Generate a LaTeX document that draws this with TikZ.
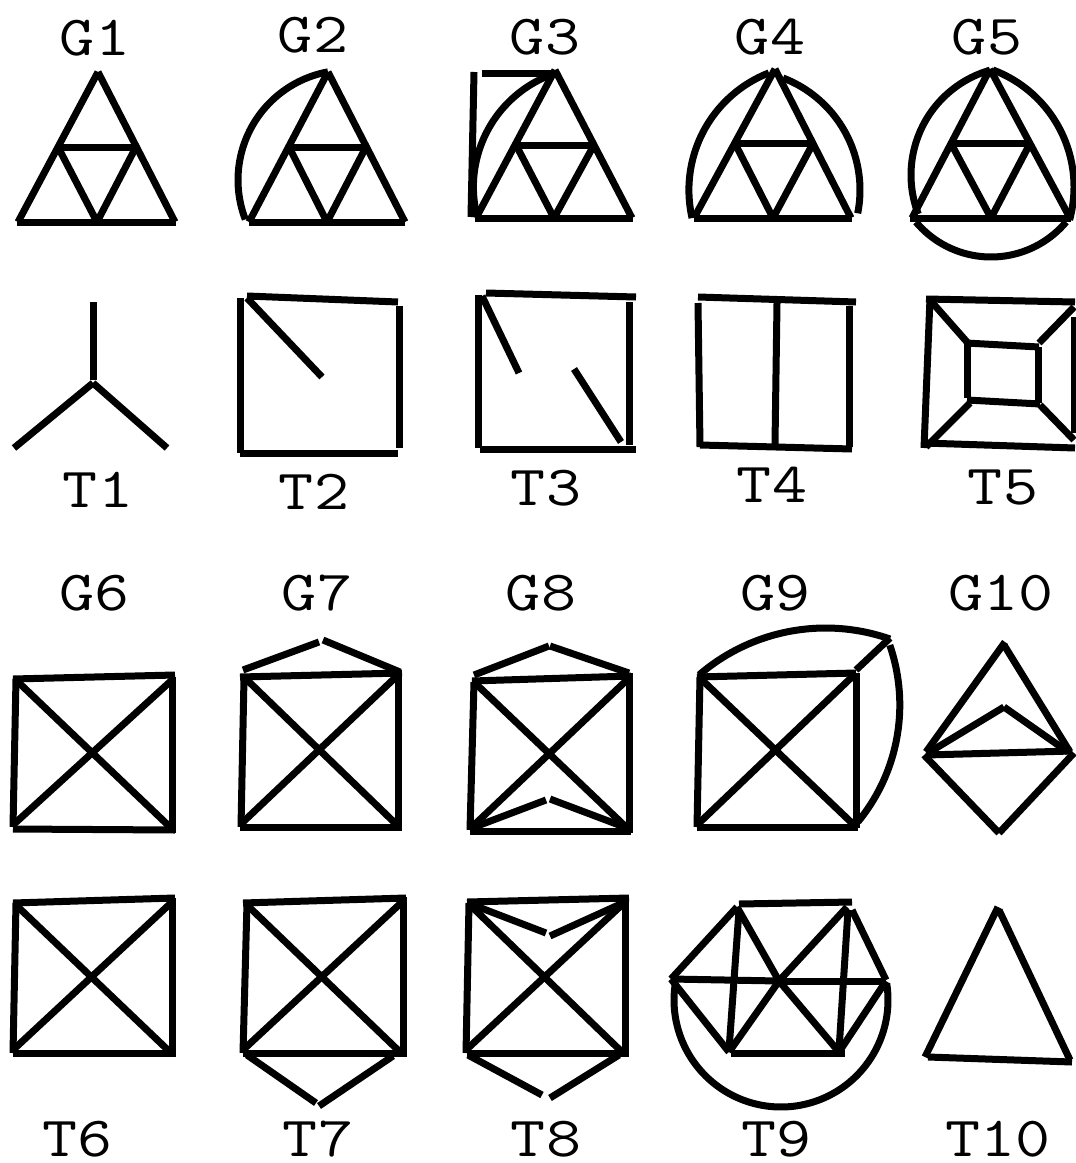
\documentclass[tikz,border=0pt]{standalone}
\usepackage{fontspec}
\newcommand\lbltxt[1]{\scalebox{1.2}[1]{#1}}
\begin{document}
\begin{tikzpicture}[x=0.75pt,y=-0.75pt,
  ed/.style={line width=5.25pt,line cap=butt},
  lbl/.style={inner sep=0pt,anchor=center,font=\ttfamily\fontsize{42.5}{42.5}\selectfont}]
\useasboundingbox[fill=white] (0,0) rectangle (1075,1163);
\begin{scope}[ed]
% ---------- G1 ----------
\node[lbl] (lG1) at (95,38) {\lbltxt{G1}};
\draw (98,72) -- (18,222);
\draw (98,72) -- (175,222);
\draw (17,222) -- (176,222);
\draw (58,147) -- (136,147);
\draw (58,147) -- (97,222);
\draw (136,147) -- (97,222);
% ---------- G2 ----------
\node[lbl] (lG2) at (313,35) {\lbltxt{G2}};
\draw (328,72) -- (249,222);
\draw (328,72) -- (405,222);
\draw (249,222) -- (405,222);
\draw (289,147) -- (366,147);
\draw (289,147) -- (327,222);
\draw (366,147) -- (327,222);
\draw plot[domain=100.5:201,samples=40,smooth] ({348+110*cos(\x)},{180-110*sin(\x)});
% ---------- G3 ----------
\node[lbl] (lG3) at (545,37) {\lbltxt{G3}};
\draw (555,70) -- (476,218);
\draw (555,70) -- (632,218);
\draw (475,218) -- (633,218);
\draw (516,145) -- (594,145);
\draw (516,145) -- (554,218);
\draw (594,145) -- (554,218);
\draw (482,74) -- (556,74);
\draw (474,72) -- (471,217);
\draw plot[domain=110.3:194.3,samples=40,smooth] ({593.4+120*cos(\x)},{187-120*sin(\x)});
% ---------- G4 ----------
\node[lbl] (lG4) at (770,37) {\lbltxt{G4}};
\draw (775,69) -- (694,218);
\draw (775,69) -- (851,218);
\draw (694,218) -- (852,218);
\draw (735,143.5) -- (813,143.5);
\draw (735,143.5) -- (773,218);
\draw (813,143.5) -- (773,218);
\draw plot[domain=111.3:192.9,samples=40,smooth] ({814.6+125.7*cos(\x)},{190-125.7*sin(\x)});
\draw plot[domain=69:-11.2,samples=40,smooth] ({740+120*cos(\x)},{190-120*sin(\x)});
% ---------- G5 ----------
\node[lbl] (lG5) at (987,37) {\lbltxt{G5}};
\draw (990,69) -- (912,218);
\draw (990,69) -- (1070,218);
\draw (910,218) -- (1071,218);
\draw (951,143.5) -- (1030,143.5);
\draw (951,143.5) -- (991,218);
\draw (1030,143.5) -- (991,218);
\draw plot[domain=106:201,samples=40,smooth] ({1020+109*cos(\x)},{175-109*sin(\x)});
\draw plot[domain=69.4:-15.3,samples=40,smooth] ({949+125*cos(\x)},{187-125*sin(\x)});
\draw plot[domain=220:320,samples=40,smooth] ({991+98*cos(\x)},{159-98*sin(\x)});
% ---------- T1 ----------
\node[lbl] (lT1) at (98,490) {\lbltxt{T1}};
\draw (93,302) -- (93,380);
\draw (93,383) -- (14,448);
\draw (93,383) -- (167,448);
% ---------- T2 ----------
\node[lbl] (lT2) at (314,492) {\lbltxt{T2}};
\draw (240,298) -- (240,453);
\draw (247,296) -- (398,302);
\draw (399,306) -- (399,448);
\draw (240,453) -- (398,453);
\draw (247,298) -- (322,377);
% ---------- T3 ----------
\node[lbl] (lT3) at (546,488) {\lbltxt{T3}};
\draw (478,295) -- (478,448);
\draw (486,293) -- (636,297);
\draw (629,302) -- (629,445);
\draw (480,449) -- (636,449);
\draw (482,296) -- (519,373);
\draw (574,369) -- (621,442);
% ---------- T4 ----------
\node[lbl] (lT4) at (772,485) {\lbltxt{T4}};
\draw (698,297) -- (856,302);
\draw (698,303) -- (700,447);
\draw (777,303) -- (775,444);
\draw (849,306) -- (849,447);
\draw (700,445) -- (852,449);
% ---------- T5 ----------
\node[lbl] (lT5) at (1003,488) {\lbltxt{T5}};
\draw (926,299) -- (1075,302);
\draw (930,298) -- (924,448);
\draw (924,443) -- (1075,448);
\draw (1074,317) -- (1074,433);
\draw (966,343) -- (1039,347);
\draw (967,342) -- (967,398);
\draw (967,400) -- (1040,404);
\draw (1038,347) -- (1038,403);
\draw (930,300) -- (967,342);
\draw (1039,343) -- (1074,307);
\draw (970,403) -- (926,447);
\draw (1040,405) -- (1074,440);
% ---------- G6 ----------
\node[lbl] (lG6) at (94,593) {\lbltxt{G6}};
\draw (13,679) -- (175,675);
\draw (16,679) -- (13,827);
\draw (172,677) -- (172,833);
\draw (13,829) -- (175,830);
\draw (16,680) -- (170,827);
\draw (172,680) -- (13,825);
% ---------- G7 ----------
\node[lbl] (lG7) at (317,593) {\lbltxt{G7}};
\draw (243,670) -- (319,642);
\draw (323,640) -- (400,672);
\draw (240,677) -- (402,673);
\draw (244,678) -- (241,827);
\draw (398,670) -- (398,830);
\draw (240,827) -- (402,827);
\draw (245,678) -- (397,825);
\draw (398,675) -- (242,823);
% ---------- G8 ----------
\node[lbl] (lG8) at (541,593) {\lbltxt{G8}};
\draw (474,675) -- (549,646);
\draw (550,646) -- (629,673);
\draw (472,681) -- (631,676);
\draw (474,682) -- (470,830);
\draw (629,673) -- (629,833);
\draw (470,831) -- (631,831);
\draw (474,682) -- (627,828);
\draw (629,678) -- (472,827);
\draw (472,828) -- (546,800);
\draw (550,799) -- (627,828);
% ---------- G9 ----------
\node[lbl] (lG9) at (775,593) {\lbltxt{G9}};
\draw (697,677) -- (856,673);
\draw (700,677) -- (697,827);
\draw (856,673) -- (856,828);
\draw (697,827) -- (858,827);
\draw (700,678) -- (854,825);
\draw (854,675) -- (697,825);
\draw (856,670) -- (890,638);
\draw plot[domain=130.7:70.6,samples=50,smooth] ({825.6+194*cos(\x)},{822-194*sin(\x)});
\draw plot[domain=19:-39.4,samples=50,smooth] ({715.8+184*cos(\x)},{705-184*sin(\x)});
% ---------- G10 ----------
\node[lbl] (lG10) at (1001,593) {\lbltxt{G10}};
\draw (1005,642) -- (926,752);
\draw (1004,645) -- (1070,752);
\draw (928,753) -- (1004,707);
\draw (1004,707) -- (1068,752);
\draw (926,755) -- (1072,751);
\draw (924,755) -- (999,833);
\draw (999,833) -- (1074,753);
% ---------- T6 ----------
\node[lbl] (lT6) at (77,1139) {\lbltxt{T6}};
\draw (13,903) -- (175,898);
\draw (16,903) -- (13,1053);
\draw (172,898) -- (172,1057);
\draw (13,1053) -- (175,1053);
\draw (16,905) -- (170,1052);
\draw (172,902) -- (13,1050);
% ---------- T7 ----------
\node[lbl] (lT7) at (318,1139) {\lbltxt{T7}};
\draw (243,903) -- (406,898);
\draw (247,903) -- (243,1053);
\draw (403,897) -- (403,1057);
\draw (243,1053) -- (405,1053);
\draw (247,905) -- (400,1052);
\draw (402,902) -- (243,1050);
\draw (247,1055) -- (316,1103);
\draw (319,1106) -- (393,1056);
% ---------- T8 ----------
\node[lbl] (lT8) at (546,1139) {\lbltxt{T8}};
\draw (467,902) -- (629,898);
\draw (469,903) -- (466,1053);
\draw (625,897) -- (625,1057);
\draw (467,1053) -- (629,1053);
\draw (470,905) -- (623,1053);
\draw (625,902) -- (466,1050);
\draw (468,903) -- (546,933);
\draw (550,936) -- (625,902);
\draw (468,1055) -- (542,1095);
\draw (550,1098) -- (619,1055);
% ---------- T9 ----------
\node[lbl] (lT9) at (776,1139) {\lbltxt{T9}};
\draw (739,904) -- (852,902);
\draw (737,907) -- (671,979);
\draw (739,910) -- (729,1050);
\draw (737,907) -- (779,981);
\draw (847,907) -- (779,981);
\draw (848,910) -- (839,1050);
\draw (852,910) -- (886,980);
\draw (671,979) -- (779,981);
\draw (779,981) -- (886,981);
\draw (671,979) -- (729,1052);
\draw (779,981) -- (729,1052);
\draw (779,981) -- (839,1052);
\draw (886,981) -- (839,1052);
\draw (731,1053) -- (845,1053);
\draw plot[domain=172:369,samples=60,smooth] ({781+107*cos(\x)},{1000-107*sin(\x)});
% ---------- T10 ----------
\node[lbl] (lT10) at (998,1139) {\lbltxt{T10}};
\draw (998,907) -- (925,1057);
\draw (999,910) -- (1070,1060);
\draw (928,1057) -- (1072,1062);
\end{scope}
\end{tikzpicture}
\end{document}
